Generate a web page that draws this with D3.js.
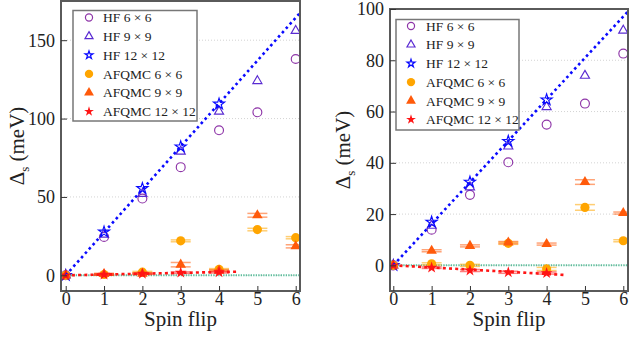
<!DOCTYPE html>
<html>
<head>
<meta charset="utf-8">
<script src="https://cdn.jsdelivr.net/npm/d3@7"></script>
<style>
  html, body { margin: 0; padding: 0; background: #fff; }
  svg { display: block; }
  text { font-family: "Liberation Serif", "DejaVu Serif", serif; fill: #222; }
</style>
</head>
<body>
<svg id="chart" width="629" height="341"></svg>
<script>
// Number of flipped spins on the x axis
const spinFlips = [0, 1, 2, 3, 4, 5, 6];
const seriesNames = ["HF 6 × 6", "HF 9 × 9", "HF 12 × 12", "AFQMC 6 × 6", "AFQMC 9 × 9", "AFQMC 12 × 12"];

// Left panel: spin gap Δs (meV)
const hf6A   = [0, 24.5, 49.0, 69.0, 92.5, 104.0, 138.0];
const hf9A   = [0, 26.0, 52.0, 79.0, 104.5, 124.0, 156.0];
const hf12A  = [0, 27.7, 55.4, 82.0, 109.3];
const af6A   = [0, 0.5, 2.0, 22.0, 3.8, 29.2, 24.0];
const af6ErrA = [0, 0.5, 0.5, 0.6, 0.5, 0.8, 0.7];
const af9A   = [0, 0.8, 1.0, 6.8, 3.0, 38.3, 18.5];
const af9ErrA = [0, 0.5, 0.5, 1.4, 0.6, 1.2, 1.0];
const af12A  = [0, 0.5, 1.0, 1.7, 2.0];
const af12ErrA = [0, 0.4, 0.4, 0.5, 0.5];
const yTicksA = [0, 50, 100, 150];

// Right panel: spin gap Δs (meV)
const hf6B   = [0, 13.9, 27.5, 40.2, 54.9, 63.1, 82.6];
const hf9B   = [0, 15.5, 30.5, 46.4, 61.8, 74.0, 91.6];
const hf12B  = [0, 16.9, 32.5, 48.4, 64.6];
const af6B   = [0, 0.6, 0.0, 8.6, -1.4, 22.6, 9.6];
const af6ErrB = [0, 0.4, 0.4, 0.4, 0.6, 1.1, 0.4];
const af9B   = [0, 5.7, 7.6, 8.9, 8.3, 32.5, 20.4];
const af9ErrB = [0, 0.4, 0.4, 0.4, 0.4, 0.9, 0.4];
const af12B  = [0, -0.9, -2.0, -2.7, -3.0];
const af12ErrB = [0, 0.3, 0.4, 0.4, 0.4];
const yTicksB = [0, 20, 40, 60, 80, 100];

const colors = {
  hf6: "#8e35a8", hf9: "#5a2bd2", hf12: "#0a0aff",
  af6: "#ffa500", af9: "#ff5a0a", af12: "#ff1414",
  zero: "#5dbf9c", frame: "#5a5a5a", grid: "#c8c8c8"
};

const svg = d3.select("#chart");

// slope of a least-squares line through the origin
function slopeThroughOrigin(vals) {
  let sxy = 0, sxx = 0;
  vals.forEach((v, i) => { sxy += spinFlips[i] * v; sxx += spinFlips[i] * spinFlips[i]; });
  return sxy / sxx;
}

function drawPanel(cfg, id) {
  const { left, right, top, bottom } = cfg.box;
  const x = d3.scaleLinear().domain(cfg.xDomain).range([left, right]);
  const y = d3.scaleLinear().domain(cfg.yDomain).range([bottom, top]);
  const g = svg.append("g");

  g.append("clipPath").attr("id", "clip" + id)
    .append("rect").attr("x", left).attr("y", top)
    .attr("width", right - left).attr("height", bottom - top);

  // grid
  g.append("g").selectAll("line").data(cfg.yTicks).join("line")
    .attr("x1", left).attr("x2", right)
    .attr("y1", d => y(d)).attr("y2", d => y(d))
    .attr("stroke", colors.grid).attr("stroke-width", 0.8)
    .attr("stroke-dasharray", "1,2");

  const plot = g.append("g").attr("clip-path", `url(#clip${id})`);

  // zero reference
  plot.append("line")
    .attr("x1", x(0)).attr("x2", x(cfg.xDomain[1]))
    .attr("y1", y(0)).attr("y2", y(0))
    .attr("stroke", colors.zero).attr("stroke-width", 2)
    .attr("stroke-dasharray", "1.3,1.2");

  const pts = vals => vals.map((v, i) => ({ x: spinFlips[i], y: v }));

  // HF markers (open)
  const openMarker = (vals, type, size, color) => {
    plot.append("g").selectAll("path").data(pts(vals)).join("path")
      .attr("transform", d => `translate(${x(d.x)},${y(d.y)})`)
      .attr("d", d3.symbol().type(type).size(size))
      .attr("fill", "none").attr("stroke", color).attr("stroke-width", 1.15);
  };
  openMarker(cfg.hf6, d3.symbolCircle, 62, colors.hf6);
  openMarker(cfg.hf9, d3.symbolTriangle, 36, colors.hf9);
  openMarker(cfg.hf12, d3.symbolStar, 38, colors.hf12);

  // AFQMC markers with error bars
  const filledMarker = (vals, errs, type, size, color) => {
    const data = pts(vals).map((d, i) => ({ ...d, e: errs[i] }));
    const eg = plot.append("g");
    const cap = 10;
    eg.selectAll("line.v").data(data).join("line").attr("class", "v")
      .attr("x1", d => x(d.x)).attr("x2", d => x(d.x))
      .attr("y1", d => y(d.y - d.e)).attr("y2", d => y(d.y + d.e))
      .attr("stroke", color).attr("stroke-opacity", 0.55).attr("stroke-width", 1.5);
    ["lo", "hi"].forEach(k => {
      eg.selectAll("line." + k).data(data.filter(d => d.x > 0)).join("line").attr("class", k)
        .attr("x1", d => x(d.x) - cap).attr("x2", d => x(d.x) + cap)
        .attr("y1", d => y(k === "lo" ? d.y - d.e : d.y + d.e))
        .attr("y2", d => y(k === "lo" ? d.y - d.e : d.y + d.e))
        .attr("stroke", color).attr("stroke-opacity", 0.55).attr("stroke-width", 1.5);
    });
    eg.selectAll("path").data(data).join("path")
      .attr("transform", d => `translate(${x(d.x)},${y(d.y)})`)
      .attr("d", d3.symbol().type(type).size(size))
      .attr("fill", color);
  };
  filledMarker(cfg.af6, cfg.af6Err, d3.symbolCircle, 66, colors.af6);
  filledMarker(cfg.af9, cfg.af9Err, d3.symbolTriangle, 48, colors.af9);
  filledMarker(cfg.af12, cfg.af12Err, d3.symbolStar, 42, colors.af12);

  // linear fits through the origin
  const hfSlope = slopeThroughOrigin(cfg.hf12);
  plot.append("line")
    .attr("x1", x(0)).attr("y1", y(0))
    .attr("x2", x(cfg.xDomain[1])).attr("y2", y(hfSlope * cfg.xDomain[1]))
    .attr("stroke", colors.hf12).attr("stroke-width", 2.6)
    .attr("stroke-dasharray", "2.6,3.2");
  const afSlope = slopeThroughOrigin(cfg.af12);
  const afEnd = 4.5;
  plot.append("line")
    .attr("x1", x(0)).attr("y1", y(0))
    .attr("x2", x(afEnd)).attr("y2", y(afSlope * afEnd))
    .attr("stroke", colors.af12).attr("stroke-width", 2.6)
    .attr("stroke-dasharray", "3,3.2");

  // frame
  g.append("rect").attr("x", left).attr("y", top)
    .attr("width", right - left).attr("height", bottom - top)
    .attr("fill", "none").attr("stroke", colors.frame).attr("stroke-width", 2);

  // axes (ticks point inward)
  const yAxis = g.append("g").attr("transform", `translate(${left},0)`)
    .call(d3.axisLeft(y).tickValues(cfg.yTicks).tickFormat(d3.format("d")).tickSize(-6).tickPadding(10));
  const xAxis = g.append("g").attr("transform", `translate(0,${bottom})`)
    .call(d3.axisBottom(x).tickValues(spinFlips).tickFormat(d3.format("d")).tickSize(-5).tickPadding(1));
  [yAxis, xAxis].forEach(a => {
    a.select(".domain").remove();
    a.selectAll(".tick line").attr("stroke", "#333").attr("stroke-width", 1);
    a.selectAll(".tick text").attr("font-size", 18).attr("fill", "#222");
  });
  yAxis.selectAll(".tick text").attr("dx", "4").attr("dy", "0.33em");
  xAxis.selectAll(".tick text").attr("dy", "0.71em");

  // axis titles
  svg.append("text").attr("x", (left + right) / 2).attr("y", 326)
    .attr("text-anchor", "middle").attr("font-size", 21).text("Spin flip");
  const yl = svg.append("text")
    .attr("transform", `translate(${cfg.yLabelX},${(top + bottom) / 2}) rotate(-90)`)
    .attr("text-anchor", "middle").attr("font-size", 21);
  yl.append("tspan").text("Δ");
  yl.append("tspan").attr("font-size", 13).attr("dy", 5).text("s");
  yl.append("tspan").attr("dy", -5).text(" (meV)");

  // legend
  const lg = svg.append("g");
  const L = cfg.legend;
  lg.append("rect").attr("x", L.x).attr("y", L.y).attr("width", L.w).attr("height", L.h)
    .attr("fill", "#fff").attr("stroke", "#777").attr("stroke-width", 1.5);
  const legendItems = [
    { type: d3.symbolCircle, size: 40, color: colors.hf6, filled: false },
    { type: d3.symbolTriangle, size: 28, color: colors.hf9, filled: false },
    { type: d3.symbolStar, size: 20, color: colors.hf12, filled: false },
    { type: d3.symbolCircle, size: 55, color: colors.af6, filled: true },
    { type: d3.symbolTriangle, size: 42, color: colors.af9, filled: true },
    { type: d3.symbolStar, size: 30, color: colors.af12, filled: true }
  ];
  legendItems.forEach((it, i) => {
    const cy = L.y + L.first + i * L.step;
    lg.append("path").attr("transform", `translate(${L.x + L.mx},${cy})`)
      .attr("d", d3.symbol().type(it.type).size(it.size))
      .attr("fill", it.filled ? it.color : "none")
      .attr("stroke", it.filled ? "none" : it.color).attr("stroke-width", 1.2);
    lg.append("text").attr("x", L.x + L.tx).attr("y", cy).attr("dy", "0.35em")
      .attr("font-size", 13.5).attr("fill", "#333").text(seriesNames[i]);
  });
}

drawPanel({
  box: { left: 61, right: 300, top: 1, bottom: 291 },
  xDomain: [-0.123, 6.112], yDomain: [-10, 175], yTicks: yTicksA, yLabelX: 24,
  hf6: hf6A, hf9: hf9A, hf12: hf12A,
  af6: af6A, af6Err: af6ErrA, af9: af9A, af9Err: af9ErrA, af12: af12A, af12Err: af12ErrA,
  legend: { x: 73, y: 10.5, w: 124, h: 110.5, first: 7, step: 18.8, mx: 16, tx: 30 }
}, "a");

drawPanel({
  box: { left: 390, right: 628, top: 9, bottom: 291 },
  xDomain: [-0.086, 6.123], yDomain: [-10, 100], yTicks: yTicksB, yLabelX: 350,
  hf6: hf6B, hf9: hf9B, hf12: hf12B,
  af6: af6B, af6Err: af6ErrB, af9: af9B, af9Err: af9ErrB, af12: af12B, af12Err: af12ErrB,
  legend: { x: 396, y: 19.5, w: 123, h: 110.5, first: 6.5, step: 18.7, mx: 15, tx: 30 }
}, "b");
</script>
</body>
</html>
